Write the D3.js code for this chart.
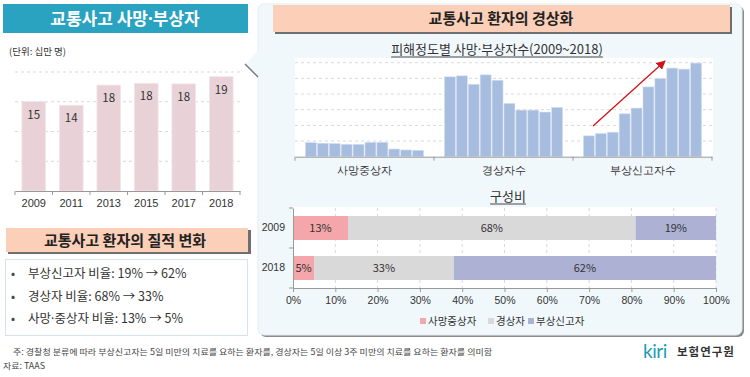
<!DOCTYPE html>
<html>
<head>
<meta charset="utf-8">
<script src="https://cdn.jsdelivr.net/npm/d3@7"></script>
<style>
  body { margin: 0; background: #fff; }
  svg { display: block; font-family: "Noto Sans CJK KR", "Noto Sans", sans-serif; }
</style>
</head>
<body>
<svg id="chart" width="750" height="377"></svg>
<script>
// left chart: 사망·부상자 (십만 명)
const years = ["2009", "2011", "2013", "2015", "2017", "2018"];
const totals = [15.0, 14.4, 17.8, 18.1, 18.0, 19.2];
const totalLabels = ["15", "14", "18", "18", "18", "19"];

// top-right chart: 피해정도별 (2009~2018)
const groups = ["사망중상자", "경상자수", "부상신고자수"];
const seriesYears = ["2009", "2010", "2011", "2012", "2013", "2014", "2015", "2016", "2017", "2018"];
const serious = [18.0, 17.2, 16.8, 15.8, 15.8, 18.4, 18.4, 9.8, 8.6, 8.2];
const minor = [102.0, 103.2, 92.5, 104.5, 97.6, 68.1, 59.5, 59.5, 57.0, 62.9];
const reported = [26.6, 29.6, 31.3, 54.8, 62.1, 89.1, 99.8, 113.1, 111.8, 119.5];
const gridTicks = [20, 40, 60, 80, 100, 120];

// bottom-right chart: 구성비
const shareRows = ["2009", "2018"];
const shareKeys = ["사망중상자", "경상자", "부상신고자"];
const share2009 = [13, 68, 19];
const share2018 = [5, 33, 62];
const pctTicks = [0, 10, 20, 30, 40, 50, 60, 70, 80, 90, 100];

const summary = [
  "부상신고자 비율: 19% → 62%",
  "경상자 비율: 68% → 33%",
  "사망·중상자 비율: 13% → 5%"
];

const svg = d3.select("#chart");

// text with a narrow middle dot (CJK font draws it full width)
function dotText(sel, str) {
  str.split("·").forEach((part, i) => {
    if (i > 0) sel.append("tspan").attr("font-family", "Noto Sans, sans-serif").text("·");
    sel.append("tspan").text(part);
  });
  return sel;
}

// ---------- left top panel ----------
svg.append("rect").attr("x", 3).attr("y", 4).attr("width", 245).attr("height", 29).attr("fill", "#2aa3c1");
svg.append("text").attr("x", 125).attr("y", 25).attr("text-anchor", "middle")
  .attr("fill", "#fff").attr("font-size", 17).attr("font-weight", "bold")
  .call(dotText, "교통사고 사망·부상자");
svg.append("text").attr("x", 9).attr("y", 55).attr("font-size", 9.5).attr("fill", "#333").text("(단위: 십만 명)");

const x1 = d3.scaleBand().domain(years).range([15, 240]).paddingInner(0.37).paddingOuter(0.185);
const y1 = d3.scaleLinear().domain([0, 20]).range([191, 72]);

svg.append("g").selectAll("line").data([5, 10, 15, 20]).join("line")
  .attr("x1", 15).attr("x2", 240).attr("y1", d => y1(d)).attr("y2", d => y1(d))
  .attr("stroke", "#d9d9d9").attr("stroke-dasharray", "3,3");

svg.append("g").selectAll("rect").data(totals).join("rect")
  .attr("x", (d, i) => x1(years[i])).attr("width", x1.bandwidth())
  .attr("y", d => y1(d)).attr("height", d => y1(0) - y1(d))
  .attr("fill", "#e8d1d7").attr("stroke", "#f2e4e8").attr("stroke-width", 0.8);

svg.append("g").selectAll("text").data(totalLabels).join("text")
  .attr("x", (d, i) => x1(years[i]) + x1.bandwidth() / 2)
  .attr("y", (d, i) => y1(totals[i]) + 17)
  .attr("text-anchor", "middle").attr("font-size", 11.5).attr("fill", "#333").text(d => d);

const ax1 = svg.append("g").attr("transform", `translate(0,${y1(0)})`)
  .call(d3.axisBottom(x1).tickSize(0).tickPadding(8));
ax1.select(".domain").attr("stroke", "#999");
ax1.selectAll("text").attr("font-size", 11).attr("fill", "#333").attr("font-family", "inherit");
svg.append("g").selectAll("line").data(d3.range(years.length + 1)).join("line")
  .attr("x1", i => 15 + i * x1.step()).attr("x2", i => 15 + i * x1.step())
  .attr("y1", y1(0)).attr("y2", y1(0) + 4).attr("stroke", "#999");

// ---------- left bottom panel ----------
svg.append("rect").attr("x", 8).attr("y", 230).attr("width", 243).attr("height", 24).attr("fill", "#6f6f6f");
svg.append("rect").attr("x", 6).attr("y", 228).attr("width", 242).attr("height", 24).attr("fill", "#fbcfb8");
svg.append("text").attr("x", 125).attr("y", 246).attr("text-anchor", "middle")
  .attr("font-size", 15).attr("font-weight", "bold").attr("fill", "#222").text("교통사고 환자의 질적 변화");

svg.append("rect").attr("x", 5.5).attr("y", 259.5).attr("width", 242).attr("height", 76)
  .attr("fill", "#fff").attr("stroke", "#d4e3ec");
const sumG = svg.append("g").selectAll("g").data(summary).join("g")
  .attr("transform", (d, i) => `translate(0,${278 + i * 22.5})`);
sumG.append("text").attr("x", 11).attr("font-size", 12).attr("fill", "#444").text("•");
sumG.append("text").attr("x", 28).attr("font-size", 12.5).attr("fill", "#333")
  .each(function (d) { dotText(d3.select(this), d); });

// ---------- right panel ----------
svg.append("rect").attr("x", 260).attr("y", 6).attr("width", 484).attr("height", 331).attr("rx", 6).attr("fill", "#8a8a8a");
svg.append("rect").attr("x", 258).attr("y", 4).attr("width", 484).attr("height", 331).attr("rx", 6)
  .attr("fill", "#f1f8fc").attr("stroke", "#e3edf3");
svg.append("polygon").attr("points", "259,50 245,64 259,78").attr("fill", "#f1f8fc");
svg.append("line").attr("x1", 245).attr("y1", 64).attr("x2", 258).attr("y2", 77)
  .attr("stroke", "#777").attr("stroke-width", 1.5);

svg.append("rect").attr("x", 275).attr("y", 7).attr("width", 457).attr("height", 27).attr("fill", "#6f6f6f");
svg.append("rect").attr("x", 273).attr("y", 5).attr("width", 457).attr("height", 27).attr("fill", "#fbcfb8");
svg.append("text").attr("x", 501).attr("y", 24).attr("text-anchor", "middle")
  .attr("font-size", 15).attr("font-weight", "bold").attr("fill", "#222").text("교통사고 환자의 경상화");

const sub1 = svg.append("text").attr("x", 497).attr("y", 54).attr("text-anchor", "middle")
  .attr("font-size", 13).attr("fill", "#333")
  .call(dotText, "피해정도별 사망·부상자수(2009~2018)");
const sb = sub1.node().getBBox();
svg.append("line").attr("x1", sb.x).attr("x2", sb.x + sb.width).attr("y1", 57).attr("y2", 57)
  .attr("stroke", "#333").attr("stroke-width", 0.9);

// grouped bars
const gx = d3.scaleBand().domain(groups).range([295, 712]);
const bx = d3.scaleBand().domain(seriesYears).range([9.5, gx.bandwidth() - 9.5]).padding(0.08);
const gy = d3.scaleLinear().domain([0, 120]).range([156.7, 62.7]);

svg.append("rect").attr("x", 295).attr("y", 58).attr("width", 418).attr("height", 99).attr("fill", "#fff");
svg.append("g").selectAll("line").data(gridTicks).join("line")
  .attr("x1", 295).attr("x2", 712).attr("y1", d => gy(d)).attr("y2", d => gy(d))
  .attr("stroke", "#d9d9d9").attr("stroke-dasharray", "3,3");

const groupData = [serious, minor, reported];
svg.append("g").selectAll("g").data(groupData).join("g")
  .attr("transform", (d, i) => `translate(${gx(groups[i])},0)`)
  .selectAll("rect").data(d => d).join("rect")
  .attr("x", (d, i) => bx(seriesYears[i])).attr("width", bx.bandwidth())
  .attr("y", d => gy(d)).attr("height", d => gy(0) - gy(d))
  .attr("fill", "#a7bde0").attr("stroke", "#d3dff0").attr("stroke-width", 0.6);

const gax = svg.append("g").attr("transform", `translate(0,${gy(0)})`)
  .call(d3.axisBottom(gx).tickSize(0).tickPadding(10));
gax.select(".domain").attr("stroke", "#999");
gax.selectAll("text").attr("font-size", 10.5).attr("fill", "#333").attr("font-family", "inherit");
svg.append("g").selectAll("line").data(d3.range(groups.length + 1)).join("line")
  .attr("x1", i => 295 + i * gx.step()).attr("x2", i => 295 + i * gx.step())
  .attr("y1", gy(0)).attr("y2", gy(0) + 4).attr("stroke", "#999");

// red trend arrow
svg.append("defs").append("marker").attr("id", "ah").attr("viewBox", "0 0 10 10")
  .attr("refX", 9).attr("refY", 5).attr("markerWidth", 7).attr("markerHeight", 7).attr("orient", "auto")
  .append("path").attr("d", "M0,0 L10,5 L0,10 z").attr("fill", "#d0121b");
svg.append("line").attr("x1", 593).attr("y1", 126).attr("x2", 665).attr("y2", 61)
  .attr("stroke", "#d0121b").attr("stroke-width", 1.3).attr("marker-end", "url(#ah)");

// stacked share chart
const sub2 = svg.append("text").attr("x", 508).attr("y", 201).attr("text-anchor", "middle")
  .attr("font-size", 13).attr("fill", "#333").text("구성비");
const sb2 = sub2.node().getBBox();
svg.append("line").attr("x1", sb2.x).attr("x2", sb2.x + sb2.width).attr("y1", 204).attr("y2", 204)
  .attr("stroke", "#333").attr("stroke-width", 0.9);

const sx = d3.scaleLinear().domain([0, 100]).range([293, 716]);
const sy = d3.scaleBand().domain(shareRows).range([208, 288]).paddingInner(0.4).paddingOuter(0.2);
const shareColors = d3.scaleOrdinal().domain(shareKeys).range(["#f4a6aa", "#d9d9d9", "#adb1d4"]);

svg.append("rect").attr("x", sx(0)).attr("y", 207).attr("width", sx(100) - sx(0)).attr("height", 81).attr("fill", "#fff");
svg.append("g").selectAll("line").data(pctTicks.slice(1)).join("line")
  .attr("x1", d => sx(d)).attr("x2", d => sx(d)).attr("y1", 208).attr("y2", 288)
  .attr("stroke", "#d9d9d9").attr("stroke-dasharray", "3,3");

const shareTable = shareRows.map((r, i) => {
  const vals = i === 0 ? share2009 : share2018;
  const o = { row: r };
  shareKeys.forEach((k, j) => o[k] = vals[j]);
  return o;
});
const stacked = d3.stack().keys(shareKeys)(shareTable);

const layers = svg.append("g").selectAll("g").data(stacked).join("g")
  .attr("fill", d => shareColors(d.key));
layers.selectAll("rect").data(d => d).join("rect")
  .attr("x", d => sx(d[0])).attr("width", d => sx(d[1]) - sx(d[0]))
  .attr("y", d => sy(d.data.row)).attr("height", sy.bandwidth());
layers.selectAll("text").data(d => d).join("text")
  .attr("x", d => (sx(d[0]) + sx(d[1])) / 2)
  .attr("y", d => sy(d.data.row) + sy.bandwidth() / 2 + 4)
  .attr("text-anchor", "middle").attr("font-size", 11).attr("fill", "#333")
  .text(d => (d[1] - d[0]) + "%");

const sax = svg.append("g").attr("transform", "translate(0,288)")
  .call(d3.axisBottom(sx).tickValues(pctTicks).tickFormat(d => d + "%").tickSize(4).tickSizeOuter(0).tickPadding(5));
sax.select(".domain").attr("stroke", "#999");
sax.selectAll("line").attr("stroke", "#999");
sax.selectAll("text").attr("font-size", 10.5).attr("fill", "#333").attr("font-family", "inherit");

const say = svg.append("g").attr("transform", `translate(${sx(0)},0)`)
  .call(d3.axisLeft(sy).tickSize(0).tickPadding(8));
say.select(".domain").attr("stroke", "#999");
say.selectAll("text").attr("font-size", 10.5).attr("fill", "#333").attr("font-family", "inherit");
svg.append("g").selectAll("line").data([208, 248, 288]).join("line")
  .attr("x1", sx(0) - 4).attr("x2", sx(0)).attr("y1", d => d).attr("y2", d => d).attr("stroke", "#999");

// legend
const legX = [420, 488, 528];
const leg = svg.append("g").selectAll("g").data(shareKeys).join("g")
  .attr("transform", (d, i) => `translate(${legX[i]},322)`);
leg.append("rect").attr("x", 0).attr("y", -4).attr("width", 6).attr("height", 6).attr("fill", d => shareColors(d));
leg.append("text").attr("x", 8).attr("y", 2.5).attr("font-size", 10.5).attr("fill", "#333").text(d => d);

// ---------- footer ----------
svg.append("text").attr("x", 13).attr("y", 355).attr("font-size", 8.5).attr("fill", "#444")
  .attr("textLength", 479).attr("lengthAdjust", "spacingAndGlyphs")
  .text("주: 경찰청 분류에 따라 부상신고자는 5일 미만의 치료를 요하는 환자를, 경상자는 5일 이상 3주 미만의 치료를 요하는 환자를 의미함");
svg.append("text").attr("x", 3).attr("y", 369).attr("font-size", 8.5).attr("fill", "#444")
  .attr("textLength", 42).attr("lengthAdjust", "spacingAndGlyphs").text("자료: TAAS");

svg.append("text").attr("x", 643).attr("y", 358).attr("font-size", 19).attr("fill", "#1d9bb3")
  .attr("font-family", "Lato, sans-serif").attr("letter-spacing", -0.5).text("kiri");
svg.append("text").attr("x", 677).attr("y", 356).attr("font-size", 11.5).attr("font-weight", "bold")
  .attr("fill", "#333").attr("letter-spacing", 1).text("보험연구원");
</script>
</body>
</html>
